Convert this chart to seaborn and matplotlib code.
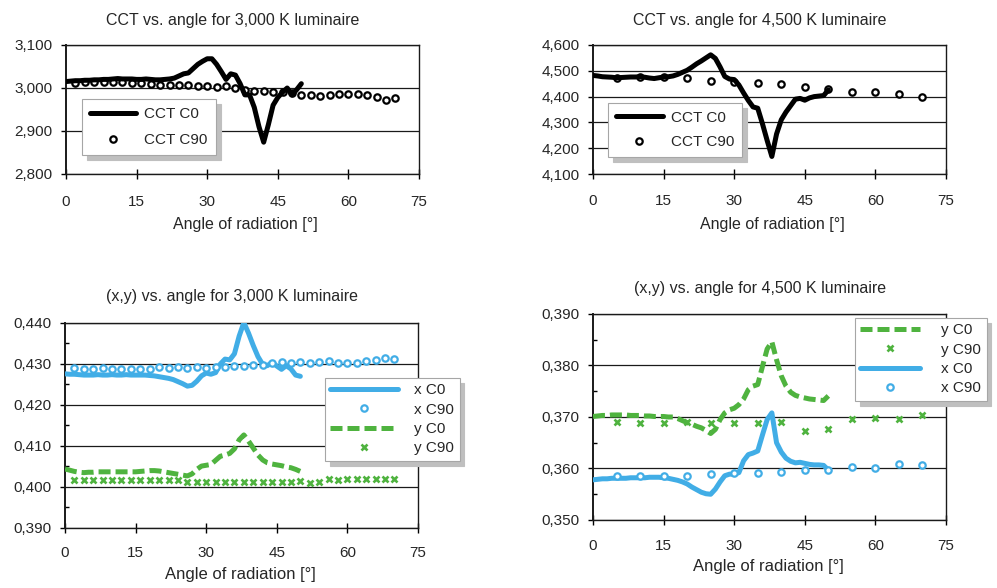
import matplotlib
matplotlib.use('Agg')
import matplotlib.pyplot as plt
import seaborn as sns
from matplotlib.ticker import FuncFormatter, MultipleLocator

# ---- data ----
angle_c0 = list(range(0, 51))          # C0 measured every degree up to 50
angle_c90_2 = list(range(2, 71, 2))    # C90, 3000 K luminaire
angle_c90_5 = list(range(5, 71, 5))    # C90, 4500 K luminaire

cct3000_c0 = [3015, 3016, 3017, 3017, 3018, 3018, 3019, 3019, 3020, 3020,
              3021, 3022, 3021, 3021, 3021, 3020, 3020, 3021, 3020, 3019,
              3019, 3020, 3021, 3023, 3028, 3033, 3035, 3045, 3055, 3062,
              3068, 3068, 3055, 3038, 3020, 3033, 3030, 3010, 2984, 2984,
              2955, 2910, 2874, 2915, 2960, 2978, 2990, 3000, 2984, 2996,
              3010]
cct3000_c90 = [3012, 3014, 3015, 3013, 3015, 3013, 3012, 3012, 3010, 3008,
               3008, 3006, 3006, 3004, 3004, 3003, 3004, 2999, 2996, 2994,
               2993, 2990, 2991, 2988, 2984, 2983, 2981, 2983, 2987, 2987,
               2986, 2983, 2979, 2972, 2977]

cct4500_c0 = [4482, 4480, 4477, 4476, 4475, 4473, 4474, 4475, 4476, 4476,
              4477, 4475, 4472, 4470, 4473, 4476, 4477, 4480, 4486, 4494,
              4502, 4514, 4527, 4538, 4550, 4562, 4548, 4515, 4478, 4468,
              4466, 4445, 4414, 4385, 4360, 4355, 4295, 4230, 4168, 4255,
              4310, 4340, 4365, 4390, 4393, 4386, 4395, 4400, 4402, 4404,
              4426]
cct4500_c90 = [4473, 4476, 4475, 4472, 4462, 4457, 4454, 4450, 4439, 4429,
               4419, 4419, 4411, 4398]

xy3000_x_c0 = [0.4276, 0.4275, 0.4275, 0.4274, 0.4273, 0.4273, 0.4273, 0.4274, 0.4273, 0.4273,
               0.4274, 0.4273, 0.4273, 0.4274, 0.4273, 0.4273, 0.4273, 0.4273, 0.4272, 0.4271,
               0.4269, 0.4267, 0.4265, 0.4262, 0.4257, 0.4252, 0.4246, 0.4248, 0.4258, 0.4271,
               0.4278, 0.4275, 0.4279, 0.4300, 0.4312, 0.4310, 0.4325, 0.4368, 0.4401, 0.4375,
               0.4345, 0.4318, 0.4299, 0.4296, 0.4304, 0.4295, 0.4287, 0.4296, 0.4288, 0.4273,
               0.4270]
xy3000_x_c90 = [0.4290, 0.4288, 0.4287, 0.4290, 0.4288, 0.4288, 0.4289, 0.4289, 0.4289, 0.4292,
                0.4291, 0.4292, 0.4291, 0.4292, 0.4291, 0.4293, 0.4292, 0.4294, 0.4296, 0.4298,
                0.4297, 0.4302, 0.4304, 0.4303, 0.4304, 0.4303, 0.4304, 0.4307, 0.4303, 0.4303,
                0.4303, 0.4307, 0.4309, 0.4314, 0.4311]
xy3000_y_c0 = [0.4044, 0.4041, 0.4038, 0.4036, 0.4035, 0.4036, 0.4036, 0.4037, 0.4037, 0.4037,
               0.4037, 0.4037, 0.4037, 0.4037, 0.4037, 0.4037, 0.4038, 0.4039, 0.4040, 0.4040,
               0.4039, 0.4037, 0.4035, 0.4033, 0.4031, 0.4029, 0.4027, 0.4032, 0.4043, 0.4051,
               0.4053, 0.4055, 0.4065, 0.4075, 0.4078, 0.4082, 0.4093, 0.4115, 0.4127, 0.4112,
               0.4095, 0.4078, 0.4066, 0.4059, 0.4056, 0.4054, 0.4052, 0.4049, 0.4047, 0.4043,
               0.4038]
xy3000_y_c90 = [0.4016, 0.4016, 0.4016, 0.4016, 0.4016, 0.4016, 0.4016, 0.4016, 0.4016, 0.4016,
                0.4016, 0.4016, 0.4013, 0.4013, 0.4013, 0.4013, 0.4013, 0.4013, 0.4013, 0.4013,
                0.4013, 0.4013, 0.4013, 0.4012, 0.4014, 0.4010, 0.4011, 0.4019, 0.4018, 0.4019,
                0.4019, 0.4019, 0.4019, 0.4020, 0.4019]

xy4500_y_c0 = [0.3701, 0.3702, 0.3703, 0.3703, 0.3704, 0.3704, 0.3704, 0.3704, 0.3703, 0.3703,
               0.3703, 0.3702, 0.3702, 0.3701, 0.3701, 0.3701, 0.3700, 0.3700, 0.3697, 0.3693,
               0.3689, 0.3686, 0.3682, 0.3679, 0.3674, 0.3668, 0.3676, 0.3695, 0.3708, 0.3714,
               0.3717, 0.3724, 0.3735, 0.3753, 0.3760, 0.3763, 0.3798, 0.3832, 0.3846, 0.3811,
               0.3780, 0.3760, 0.3748, 0.3742, 0.3739, 0.3737, 0.3735, 0.3734, 0.3733, 0.3732,
               0.3741]
xy4500_y_c90 = [0.3690, 0.3689, 0.3689, 0.3690, 0.3689, 0.3688, 0.3689, 0.3690, 0.3672, 0.3677,
                0.3697, 0.3698, 0.3696, 0.3703]
xy4500_x_c0 = [0.3578, 0.3579, 0.3580, 0.3580, 0.3581, 0.3581, 0.3581, 0.3581, 0.3582, 0.3582,
               0.3582, 0.3582, 0.3583, 0.3583, 0.3583, 0.3582, 0.3581, 0.3579, 0.3577, 0.3574,
               0.3570, 0.3564, 0.3559, 0.3554, 0.3551, 0.3550, 0.3560, 0.3574, 0.3586, 0.3589,
               0.3589, 0.3592, 0.3615, 0.3627, 0.3630, 0.3634, 0.3665, 0.3695, 0.3708, 0.3650,
               0.3632, 0.3620, 0.3614, 0.3611, 0.3612, 0.3610, 0.3608, 0.3607, 0.3607, 0.3606,
               0.3597]
xy4500_x_c90 = [0.3585, 0.3585, 0.3585, 0.3586, 0.3589, 0.3591, 0.3591, 0.3594, 0.3597, 0.3597,
                0.3603, 0.3601, 0.3609, 0.3607]

titles = ['CCT vs. angle for 3,000 K luminaire', 'CCT vs. angle for 4,500 K luminaire',
          '(x,y) vs. angle for 3,000 K luminaire', '(x,y) vs. angle for 4,500 K luminaire']
xlabel = 'Angle of radiation [°]'

BLUE = '#41ade6'
GREEN = '#4fb33f'
W, H = 997, 588

sns.set_style('white')
plt.rcParams['font.family'] = ['Liberation Sans', 'DejaVu Sans']

fig = plt.figure(figsize=(W / 100, H / 100), dpi=100)


def px_axes(left, top, right, bottom):
    return fig.add_axes([left / W, 1 - bottom / H, (right - left) / W, (bottom - top) / H])


def draw_line(ax, x, y, color, ls='-', z=3):
    sns.lineplot(x=x, y=y, ax=ax, color=color, linewidth=3.6, linestyle=ls,
                 solid_capstyle='round', solid_joinstyle='round', dash_capstyle='butt',
                 estimator=None, legend=False, zorder=z)
    return ax.lines[-1]


def draw_marks(ax, x, y, color, marker='o', z=4):
    if marker == 'o':
        kw = dict(marker='o', markersize=4.6, markerfacecolor='white', markeredgecolor=color,
                  markeredgewidth=1.6)
    else:
        kw = dict(marker='x', markersize=4.2, markeredgecolor=color, markeredgewidth=1.9)
    sns.lineplot(x=x, y=y, ax=ax, color=color, linestyle='', estimator=None,
                 legend=False, zorder=z, **kw)
    return ax.lines[-1]


def style_axes(ax, ylo, yhi, ystep, fmt, minor=None, xpad=12):
    ax.set_xlim(0, 75)
    ax.set_ylim(ylo, yhi)
    ax.xaxis.set_major_locator(MultipleLocator(15))
    ax.yaxis.set_major_locator(MultipleLocator(ystep))
    if minor:
        ax.yaxis.set_minor_locator(MultipleLocator(minor))
    ax.yaxis.set_major_formatter(FuncFormatter(fmt))
    ax.grid(False)
    ax.yaxis.grid(True, which='major', color='#1a1a1a', linewidth=0.9)
    for sp in ax.spines.values():
        sp.set_visible(True)
        sp.set_color('#1a1a1a')
        sp.set_linewidth(1.0)
    ax.spines['left'].set_linewidth(1.4)
    ax.tick_params(axis='x', which='major', direction='inout', length=6.5, width=1.0,
                   color='black', labelsize=11, pad=xpad, bottom=True)
    ax.tick_params(axis='y', which='major', direction='out', length=3.5, width=1.0,
                   color='black', labelsize=11, pad=6, left=True)
    ax.tick_params(axis='y', which='minor', direction='in', length=3, width=1.0,
                   color='black', left=True)
    ax.set_xlabel('')
    ax.set_ylabel('')
    ax.set_facecolor('white')


def add_legend(ax, handles, labels, left, top, bp, spacing, hlen, htp):
    ax.legend(handles, labels, loc='upper left', bbox_to_anchor=(left / W, 1 - top / H),
              bbox_transform=fig.transFigure, borderaxespad=0, fontsize=11,
              frameon=True, fancybox=False, framealpha=1, edgecolor='#a6a6a6',
              borderpad=bp, labelspacing=spacing, handlelength=hlen, handletextpad=htp,
              shadow={'ox': 3.5, 'oy': -3.5, 'color': '#bfbfbf', 'alpha': 1})
    ax.get_legend().get_frame().set_linewidth(0.8)


cct_fmt = lambda v, p: f'{v:,.0f}'
xy_fmt = lambda v, p: f'{v:.3f}'.replace('.', ',')

# ---- CCT 3000 K ----
ax1 = px_axes(66, 45, 419, 174)
h90 = draw_marks(ax1, angle_c90_2, cct3000_c90, 'black', z=2)
h0 = draw_line(ax1, angle_c0, cct3000_c0, 'black', z=3)
style_axes(ax1, 2800, 3100, 100, cct_fmt, xpad=12)
add_legend(ax1, [h0, h90], ['CCT C0', 'CCT C90'], 82, 99, 0.55, 0.75, 3.0, 0.5)

# ---- CCT 4500 K ----
ax2 = px_axes(593, 45, 946, 174)
h90 = draw_marks(ax2, angle_c90_5, cct4500_c90, 'black', z=2)
h0 = draw_line(ax2, angle_c0, cct4500_c0, 'black', z=3)
style_axes(ax2, 4100, 4600, 100, cct_fmt, xpad=11.5)
add_legend(ax2, [h0, h90], ['CCT C0', 'CCT C90'], 608, 103, 0.5, 0.7, 3.1, 0.5)

# ---- (x,y) 3000 K ----
ax3 = px_axes(65, 323, 418, 528)
hx0 = draw_line(ax3, angle_c0, xy3000_x_c0, BLUE, z=3)
hx90 = draw_marks(ax3, angle_c90_2, xy3000_x_c90, BLUE, z=4)
hy0 = draw_line(ax3, angle_c0, xy3000_y_c0, GREEN, ls=(0, (2.4, 1.0)), z=5)
hy90 = draw_marks(ax3, angle_c90_2, xy3000_y_c90, GREEN, marker='x', z=6)
style_axes(ax3, 0.390, 0.440, 0.010, xy_fmt, minor=0.005, xpad=10)
add_legend(ax3, [hx0, hx90, hy0, hy90], ['x C0', 'x C90', 'y C0', 'y C90'],
           325, 378, 0.35, 0.35, 4.4, 1.1)

# ---- (x,y) 4500 K ----
ax4 = px_axes(593, 314, 946, 520)
hy0 = draw_line(ax4, angle_c0, xy4500_y_c0, GREEN, ls=(0, (2.4, 1.0)), z=3)
hy90 = draw_marks(ax4, angle_c90_5, xy4500_y_c90, GREEN, marker='x', z=4)
hx0 = draw_line(ax4, angle_c0, xy4500_x_c0, BLUE, z=5)
hx90 = draw_marks(ax4, angle_c90_5, xy4500_x_c90, BLUE, z=6)
style_axes(ax4, 0.350, 0.390, 0.010, xy_fmt, minor=0.005, xpad=10.5)
add_legend(ax4, [hy0, hy90, hx0, hx90], ['y C0', 'y C90', 'x C0', 'x C90'],
           855, 318, 0.35, 0.35, 3.9, 1.4)

# ---- titles and axis labels placed like the original ----
for (cx, cy), t in zip([(233, 21), (760, 21), (232, 296), (760, 288)], titles):
    fig.text(cx / W, 1 - cy / H, t, ha='center', va='center', fontsize=11.5)
for (cx, cy), fs in zip([(245, 224), (772, 224), (240, 575), (768, 566)], [11.5, 11.5, 12, 12]):
    fig.text(cx / W, 1 - cy / H, xlabel, ha='center', va='center', fontsize=fs)

fig.savefig('out.png', dpi=100, facecolor='white')
